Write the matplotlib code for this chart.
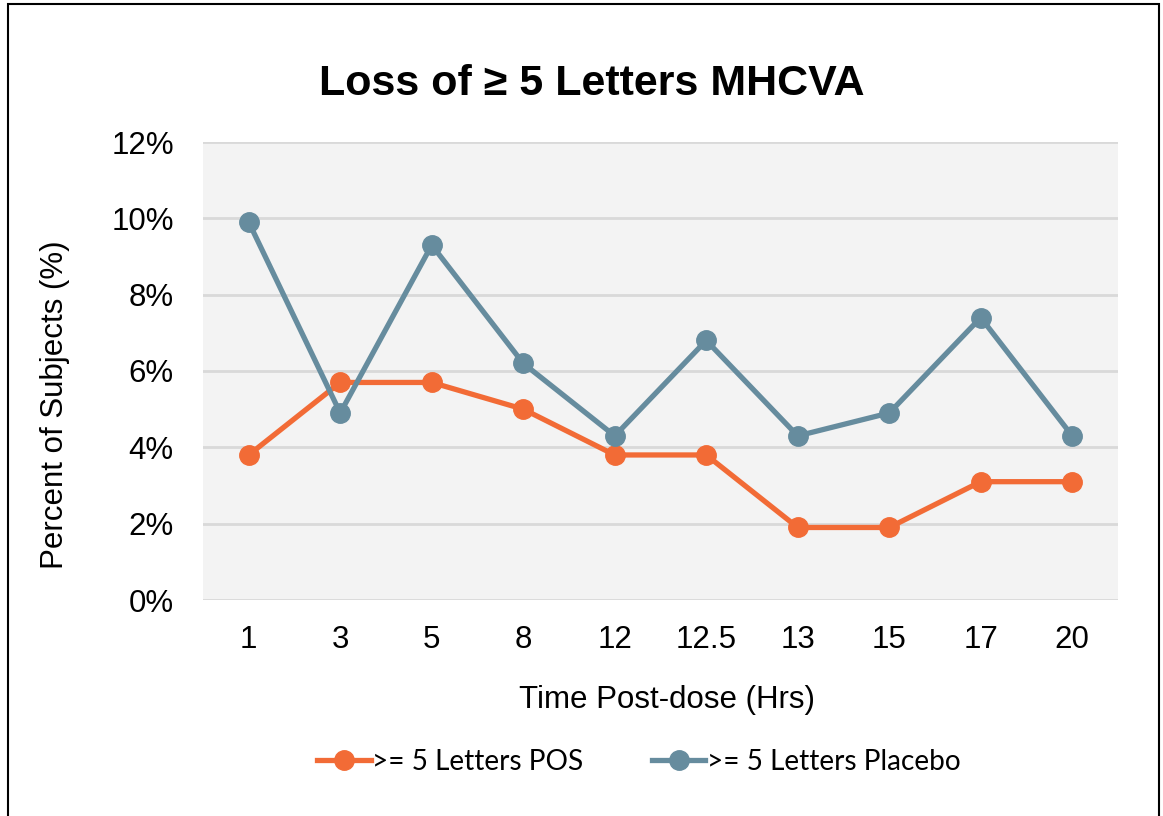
import matplotlib
matplotlib.use("Agg")
import matplotlib.pyplot as plt
from matplotlib.patches import Rectangle
from matplotlib.ticker import FuncFormatter
from matplotlib.lines import Line2D

# data
hours = ["1", "3", "5", "8", "12", "12.5", "13", "15", "17", "20"]
pos = [3.8, 5.7, 5.7, 5.0, 3.8, 3.8, 1.9, 1.9, 3.1, 3.1]
placebo = [9.9, 4.9, 9.3, 6.2, 4.3, 6.8, 4.3, 4.9, 7.4, 4.3]

orange = "#F26B36"
slate = "#668C9E"

plt.rcParams['font.family'] = ['Liberation Sans', 'DejaVu Sans']

fig = plt.figure(figsize=(11.63, 8.16), dpi=100)
ax = fig.add_axes([203/1163, 1-600/816, 915/1163, 458/816])
ax.set_facecolor("#F3F3F3")

x = list(range(len(hours)))
ax.plot(x, pos, color=orange, lw=3.8, marker="o", ms=14, label=">= 5 Letters POS", zorder=3)
ax.plot(x, placebo, color=slate, lw=3.8, marker="o", ms=14, label=">= 5 Letters Placebo", zorder=3)

ax.set_xlim(-0.5, len(hours) - 0.5)
ax.set_ylim(0, 12)
ax.set_yticks(range(0, 13, 2))
ax.yaxis.set_major_formatter(FuncFormatter(lambda v, p: "%d%%" % v))
ax.set_xticks(x)
ax.set_xticklabels(hours)
ax.tick_params(length=0, labelsize=22.5)
ax.tick_params(axis="y", pad=21)
ax.tick_params(axis="x", pad=18)
ax.grid(axis="y", color="#D9D9D9", lw=2)
ax.set_axisbelow(True)
for s in ax.spines.values():
    s.set_visible(False)

ax.set_ylabel("Percent of Subjects (%)", fontsize=22.5)
ax.yaxis.set_label_coords((55 - 203) / 915, (600 - 405) / 458)
ax.yaxis.label.set_va("center")
ax.set_xlabel("Time Post-dose (Hrs)", fontsize=22.5)
ax.xaxis.set_label_coords((667 - 203) / 915, (600 - 700) / 458)
ax.xaxis.label.set_va("center")
fig.text(592/1163, 1-84/816, "Loss of \u2265 5 Letters MHCVA", ha="center", va="center",
         fontsize=31, fontweight="bold")

handles = [Line2D([], [], color=orange, lw=3.8, marker="o", ms=14),
           Line2D([], [], color=slate, lw=3.8, marker="o", ms=14)]
fig.legend(handles, [">= 5 Letters POS", ">= 5 Letters Placebo"], loc="center",
           bbox_to_anchor=(639/1163, 1-762/816), ncol=2, frameon=False,
           prop={"family": "Lato", "size": 20.2}, handlelength=1.9, handletextpad=0.05,
           columnspacing=2.45)

fig.patches.append(Rectangle((8/1163, -0.05), 1151/1163, 1.05 - 4/816, transform=fig.transFigure,
                             fill=False, edgecolor="black", lw=1.5))

fig.savefig("out.png", dpi=100)
